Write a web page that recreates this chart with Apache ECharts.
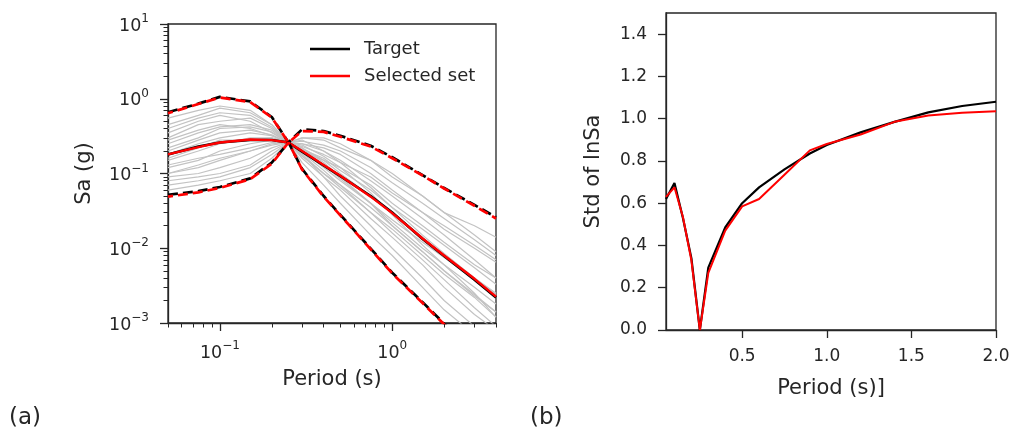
<!DOCTYPE html>
<html>
<head>
<meta charset="utf-8">
<script src="https://cdn.jsdelivr.net/npm/echarts@6/dist/echarts.min.js"></script>
<style>
  html, body { margin: 0; padding: 0; background: #ffffff; }
  #chart { width: 1011px; height: 433px; }
</style>
</head>
<body>
<div id="chart"></div>
<script>
// ---- (a) response spectra: periods (s) and spectral accelerations (g) ----
const periods = [0.05, 0.075, 0.1, 0.15, 0.2, 0.25, 0.3, 0.4, 0.5, 0.75, 1.0, 1.5, 2.0, 3.0, 4.0];

const targetMedian   = [0.18, 0.23, 0.26, 0.28, 0.28, 0.26, 0.196, 0.128, 0.092, 0.050, 0.030, 0.0133, 0.0079, 0.0038, 0.0022];
const selectedMedian = [0.18, 0.225, 0.26, 0.285, 0.28, 0.26, 0.20, 0.13, 0.093, 0.049, 0.0295, 0.0135, 0.0080, 0.0039, 0.00225];

const targetUpper   = [0.66, 0.86, 1.06, 0.92, 0.57, 0.26, 0.39, 0.37, 0.32, 0.235, 0.165, 0.095, 0.064, 0.038, 0.026];
const selectedUpper = [0.64, 0.85, 1.04, 0.90, 0.56, 0.26, 0.37, 0.36, 0.31, 0.230, 0.160, 0.094, 0.063, 0.037, 0.025];

const targetLower   = [0.052, 0.058, 0.066, 0.086, 0.14, 0.26, 0.115, 0.050, 0.028, 0.0099, 0.0047, 0.0019, 0.00098, 0.0004, 0.0002];
const selectedLower = [0.049, 0.056, 0.064, 0.084, 0.135, 0.26, 0.113, 0.049, 0.0275, 0.0097, 0.0046, 0.00185, 0.00096, 0.0004, 0.0002];

// individual scaled ground-motion spectra
const gm01 = [0.55, 0.70, 0.80, 0.70, 0.45, 0.26, 0.30, 0.28, 0.22, 0.15, 0.10, 0.05, 0.03, 0.015, 0.009];
const gm02 = [0.40, 0.55, 0.65, 0.60, 0.42, 0.26, 0.25, 0.20, 0.15, 0.08, 0.05, 0.025, 0.015, 0.007, 0.004];
const gm03 = [0.30, 0.45, 0.50, 0.55, 0.40, 0.26, 0.22, 0.15, 0.10, 0.05, 0.03, 0.014, 0.008, 0.004, 0.0025];
const gm04 = [0.25, 0.35, 0.42, 0.45, 0.38, 0.26, 0.20, 0.12, 0.08, 0.04, 0.022, 0.010, 0.006, 0.003, 0.0018];
const gm05 = [0.20, 0.28, 0.35, 0.38, 0.33, 0.26, 0.18, 0.10, 0.065, 0.03, 0.018, 0.008, 0.0045, 0.0022, 0.0012];
const gm06 = [0.15, 0.20, 0.25, 0.30, 0.30, 0.26, 0.16, 0.09, 0.06, 0.025, 0.014, 0.006, 0.003, 0.0013, 0.0008];
const gm07 = [0.12, 0.15, 0.20, 0.25, 0.28, 0.26, 0.20, 0.15, 0.12, 0.07, 0.04, 0.02, 0.012, 0.006, 0.004];
const gm08 = [0.10, 0.12, 0.15, 0.20, 0.25, 0.26, 0.25, 0.22, 0.18, 0.10, 0.06, 0.03, 0.018, 0.010, 0.0065];
const gm09 = [0.09, 0.10, 0.12, 0.16, 0.22, 0.26, 0.30, 0.30, 0.25, 0.15, 0.09, 0.05, 0.03, 0.020, 0.014];
const gm10 = [0.08, 0.09, 0.10, 0.13, 0.20, 0.26, 0.24, 0.17, 0.12, 0.055, 0.028, 0.011, 0.006, 0.0025, 0.0012];
const gm11 = [0.07, 0.08, 0.09, 0.12, 0.18, 0.26, 0.14, 0.07, 0.04, 0.015, 0.008, 0.003, 0.0015, 0.0007, 0.0004];
const gm12 = [0.35, 0.50, 0.60, 0.50, 0.35, 0.26, 0.18, 0.09, 0.05, 0.02, 0.010, 0.004, 0.002, 0.0009, 0.0005];
const gm13 = [0.45, 0.60, 0.75, 0.65, 0.45, 0.26, 0.22, 0.14, 0.09, 0.04, 0.020, 0.009, 0.005, 0.0024, 0.0014];
const gm14 = [0.18, 0.25, 0.30, 0.35, 0.32, 0.26, 0.21, 0.16, 0.11, 0.06, 0.035, 0.018, 0.011, 0.0055, 0.0033];
const gm15 = [0.22, 0.30, 0.40, 0.42, 0.36, 0.26, 0.23, 0.18, 0.14, 0.09, 0.055, 0.03, 0.02, 0.011, 0.007];
const gm16 = [0.13, 0.16, 0.18, 0.22, 0.26, 0.26, 0.19, 0.11, 0.07, 0.03, 0.016, 0.007, 0.0038, 0.0016, 0.0009];
const gm17 = [0.28, 0.38, 0.45, 0.40, 0.32, 0.26, 0.27, 0.24, 0.20, 0.12, 0.075, 0.04, 0.025, 0.013, 0.008];
const gm18 = [0.10, 0.13, 0.16, 0.20, 0.24, 0.26, 0.22, 0.13, 0.085, 0.04, 0.024, 0.012, 0.0075, 0.0038, 0.0022];
const gm19 = [0.06, 0.07, 0.08, 0.10, 0.16, 0.26, 0.28, 0.20, 0.14, 0.065, 0.035, 0.015, 0.0085, 0.004, 0.0024];
const gm20 = [0.16, 0.22, 0.28, 0.28, 0.30, 0.26, 0.17, 0.10, 0.07, 0.035, 0.020, 0.009, 0.005, 0.0023, 0.0014];
const groundMotions = [gm01, gm02, gm03, gm04, gm05, gm06, gm07, gm08, gm09, gm10,
                       gm11, gm12, gm13, gm14, gm15, gm16, gm17, gm18, gm19, gm20];

// ---- (b) standard deviation of ln Sa ----
const stdPeriods  = [0.05, 0.1, 0.15, 0.2, 0.25, 0.3, 0.4, 0.5, 0.6, 0.75, 0.9, 1.0, 1.2, 1.4, 1.6, 1.8, 2.0];
const stdTarget   = [0.62, 0.695, 0.53, 0.34, 0.0, 0.295, 0.485, 0.60, 0.675, 0.76, 0.835, 0.875, 0.935, 0.985, 1.03, 1.06, 1.08];
const stdSelected = [0.63, 0.675, 0.535, 0.33, 0.0, 0.27, 0.47, 0.585, 0.62, 0.735, 0.85, 0.88, 0.925, 0.985, 1.015, 1.028, 1.035];

// ---- tick values ----
const saMajorTicks = [0.001, 0.01, 0.1, 1, 10];
const saMinorTicks = [0.002, 0.003, 0.004, 0.005, 0.006, 0.007, 0.008, 0.009,
                      0.02, 0.03, 0.04, 0.05, 0.06, 0.07, 0.08, 0.09,
                      0.2, 0.3, 0.4, 0.5, 0.6, 0.7, 0.8, 0.9,
                      2, 3, 4, 5, 6, 7, 8, 9];
const periodMajorTicks = [0.1, 1];
const periodMinorTicks = [0.05, 0.06, 0.07, 0.08, 0.09, 0.2, 0.3, 0.4, 0.5, 0.6, 0.7, 0.8, 0.9, 2, 3, 4];
const stdTicks = [0.0, 0.2, 0.4, 0.6, 0.8, 1.0, 1.2, 1.4];
const stdPeriodTicks = [0.5, 1.0, 1.5, 2.0];

const INK = '#262626';
const FONT = 'DejaVu Sans';

const pairs = (xs, ys) => xs.map((x, i) => [x, ys[i]]);

function powerLabel(v) {
  const e = Math.round(Math.log10(v));
  const exp = e < 0 ? '\u2212' + (-e) : String(e);
  return '{b|10}{s|' + exp + '}';
}
const powerRich = {
  b: { fontSize: 17.5, fontFamily: FONT, color: INK, lineHeight: 22, verticalAlign: 'bottom' },
  s: { fontSize: 12, fontFamily: FONT, color: INK, lineHeight: 12, verticalAlign: 'top' }
};

const nameStyle = { fontSize: 21, fontFamily: FONT, color: INK };
const lineStyleAxis = { color: INK, width: 1.3 };

function majorAxis(extra) {
  return Object.assign({
    splitLine: { show: false },
    axisLine: { show: true, onZero: false, lineStyle: lineStyleAxis },
    nameTextStyle: nameStyle
  }, extra);
}
function minorAxis(extra) {
  return Object.assign({
    splitLine: { show: false },
    axisLine: { show: false },
    axisLabel: { show: false }
  }, extra);
}

const series = [];

// gray individual spectra
groundMotions.forEach((gm, i) => {
  series.push({
    name: 'Record ' + (i + 1), type: 'line', xAxisIndex: 0, yAxisIndex: 0,
    data: pairs(periods, gm), showSymbol: false, silent: true, clip: true,
    lineStyle: { color: '#c3c3c3', width: 1.2 }, z: 2
  });
});

// medians
series.push({
  name: 'Target', type: 'line', xAxisIndex: 0, yAxisIndex: 0,
  data: pairs(periods, targetMedian), showSymbol: false, clip: true,
  color: '#000000', lineStyle: { color: '#000000', width: 2.6 }, z: 3
});
series.push({
  name: 'Selected set', type: 'line', xAxisIndex: 0, yAxisIndex: 0,
  data: pairs(periods, selectedMedian), showSymbol: false, clip: true,
  color: '#ff0000', lineStyle: { color: '#ff0000', width: 2.4 }, z: 3
});

// +/- bounds
[[targetUpper, '#000000', 0, 'Target upper'], [targetLower, '#000000', 0, 'Target lower'],
 [selectedUpper, '#ff0000', 5, 'Selected upper'], [selectedLower, '#ff0000', 5, 'Selected lower']]
  .forEach(([vals, col, off, nm]) => {
    series.push({
      name: nm, type: 'line', xAxisIndex: 0, yAxisIndex: 0,
      data: pairs(periods, vals), showSymbol: false, clip: true,
      lineStyle: { color: col, width: 2.7, type: [10, 5], dashOffset: off }, z: 4
    });
  });

// std of ln Sa
series.push({
  name: 'Target', type: 'line', xAxisIndex: 2, yAxisIndex: 2,
  data: pairs(stdPeriods, stdTarget), showSymbol: false, clip: true,
  color: '#000000', lineStyle: { color: '#000000', width: 2.2 }, z: 3
});
series.push({
  name: 'Selected set', type: 'line', xAxisIndex: 2, yAxisIndex: 2,
  data: pairs(stdPeriods, stdSelected), showSymbol: false, clip: true,
  color: '#ff0000', lineStyle: { color: '#ff0000', width: 2.0 }, z: 4
});

const option = {
  animation: false,
  backgroundColor: '#ffffff',
  grid: [
    { left: 168, top: 24, width: 328, height: 299, show: true, borderColor: INK, borderWidth: 1.3,
      backgroundColor: 'transparent', containLabel: false, outerBoundsMode: 'none' },
    { left: 666, top: 13, width: 330, height: 317, show: true, borderColor: INK, borderWidth: 1.3,
      backgroundColor: 'transparent', containLabel: false, outerBoundsMode: 'none' }
  ],
  xAxis: [
    majorAxis({
      type: 'log', logBase: 10, gridIndex: 0, min: 0.05, max: 4, position: 'bottom',
      axisTick: { show: true, length: 8, customValues: periodMajorTicks, lineStyle: lineStyleAxis },
      axisLabel: { customValues: periodMajorTicks, formatter: powerLabel, rich: powerRich, margin: 17 },
      name: 'Period (s)', nameLocation: 'middle', nameGap: 46
    }),
    minorAxis({
      type: 'log', logBase: 10, gridIndex: 0, min: 0.05, max: 4, position: 'bottom',
      axisTick: { show: true, length: 4.5, customValues: periodMinorTicks, lineStyle: { color: INK, width: 1 } }
    }),
    majorAxis({
      type: 'value', gridIndex: 1, min: 0.05, max: 2.0, position: 'bottom',
      axisTick: { show: true, length: 8, customValues: stdPeriodTicks, lineStyle: lineStyleAxis },
      axisLabel: { customValues: stdPeriodTicks, formatter: v => v.toFixed(1), fontSize: 17,
                   fontFamily: FONT, color: INK, margin: 18 },
      name: 'Period (s)]', nameLocation: 'middle', nameGap: 48
    })
  ],
  yAxis: [
    majorAxis({
      type: 'log', logBase: 10, gridIndex: 0, min: 0.001, max: 10, position: 'left',
      axisTick: { show: true, length: 8, customValues: saMajorTicks, lineStyle: lineStyleAxis },
      axisLabel: { customValues: saMajorTicks, formatter: powerLabel, rich: powerRich, margin: 19 },
      name: 'Sa (g)', nameLocation: 'middle', nameGap: 73, nameRotate: 90
    }),
    minorAxis({
      type: 'log', logBase: 10, gridIndex: 0, min: 0.001, max: 10, position: 'left',
      axisTick: { show: true, length: 4.5, customValues: saMinorTicks, lineStyle: { color: INK, width: 1 } }
    }),
    majorAxis({
      type: 'value', gridIndex: 1, min: 0, max: 1.5, position: 'left',
      axisTick: { show: true, length: 8, customValues: stdTicks, lineStyle: lineStyleAxis },
      axisLabel: { customValues: stdTicks, formatter: v => v.toFixed(1), fontSize: 17,
                   fontFamily: FONT, color: INK, margin: 19 },
      name: 'Std of lnSa', nameLocation: 'middle', nameGap: 62, nameRotate: 90
    })
  ],
  legend: {
    left: 310, top: 40, orient: 'vertical', selectedMode: false, padding: 0,
    itemWidth: 40, itemHeight: 2.5, itemGap: 9,
    textStyle: { fontSize: 18, fontFamily: FONT, color: INK, lineHeight: 18, padding: [0, 0, 0, 9] },
    data: [
      { name: 'Target', icon: 'rect', itemStyle: { color: '#000000' } },
      { name: 'Selected set', icon: 'rect', itemStyle: { color: '#ff0000' } }
    ]
  },
  graphic: [
    { type: 'text', left: 9, top: 407, style: { text: '(a)', font: '23px "DejaVu Sans"', fill: INK } },
    { type: 'text', left: 530, top: 407, style: { text: '(b)', font: '23px "DejaVu Sans"', fill: INK } }
  ],
  series: series
};

const chart = echarts.init(document.getElementById('chart'), null, { renderer: 'canvas' });
chart.setOption(option);
</script>
</body>
</html>
